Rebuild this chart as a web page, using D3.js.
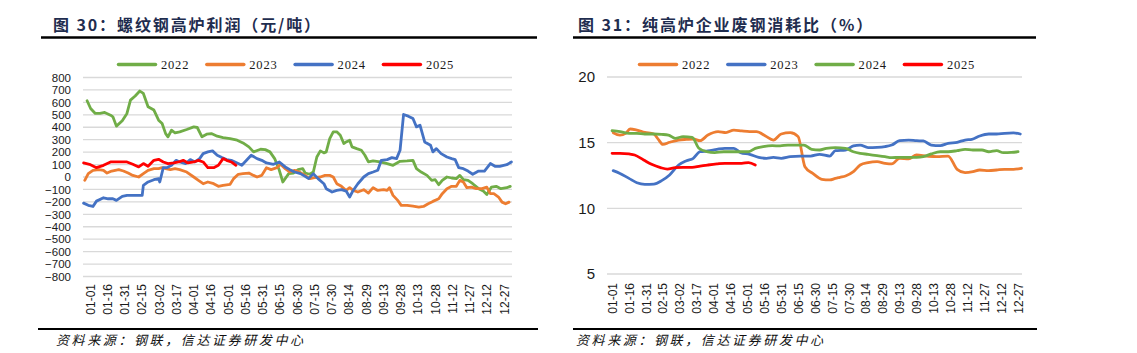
<!DOCTYPE html>
<html lang="zh">
<head>
<meta charset="UTF-8">
<title>螺纹钢高炉利润 / 纯高炉企业废钢消耗比</title>
<script src="https://cdnjs.cloudflare.com/ajax/libs/d3/7.8.5/d3.min.js"></script>
<style>
    body { margin: 0; background: #fff; }
    svg { display: block; }
</style>
</head>
<body>
<div id="chart"></div>
<script>
// x axis labels (every 15 days)
const xLabels = ["01-01","01-16","01-31","02-15","03-02","03-17","04-01","04-16","05-01","05-16","05-31",
    "06-15","06-30","07-15","07-30","08-14","08-29","09-13","09-28","10-13","10-28","11-12","11-27","12-12","12-27"];

// ---- chart 30: rebar blast furnace profit (yuan/ton), [day of year, value]
const profitYears = ["2022", "2023", "2024", "2025"];
const profitTicks = [800,700,600,500,400,300,200,100,0,-100,-200,-300,-400,-500,-600,-700,-800];
const profit2022 = [[3,613],[6,551],[10,511],[14,511],[18,519],[23,497],[25,484],[28,409],[33,452],[37,511],[40,618],[44,651],[48,691],[51,672],[55,565],[60,538],[64,457],[67,430],[70,349],[72,323],[75,376],[78,355],[82,363],[88,382],[94,403],[97,398],[101,323],[105,344],[109,349],[114,328],[119,317],[125,309],[131,296],[136,274],[141,242],[145,202],[151,223],[155,220],[159,202],[163,148],[167,54],[170,-40],[175,27],[179,32],[183,59],[187,67],[189,32],[193,22],[196,40],[199,161],[202,210],[205,194],[207,202],[210,309],[213,363],[216,363],[219,336],[222,269],[224,282],[227,296],[229,242],[233,228],[237,215],[240,175],[243,121],[247,129],[253,121],[259,108],[264,94],[270,126],[276,129],[281,134],[284,67],[288,40],[293,13],[297,-27],[300,-22],[303,-62],[306,-27],[310,0],[314,-8],[318,-13],[321,13],[324,-22],[328,-27],[332,-54],[337,-94],[341,-113],[344,-140],[348,-81],[352,-75],[356,-94],[361,-86],[364,-75]];
const profit2023 = [[1,-27],[4,27],[8,54],[13,59],[17,54],[20,32],[24,48],[30,59],[34,48],[38,32],[42,13],[47,0],[51,27],[55,54],[60,67],[64,67],[67,75],[70,67],[74,59],[78,67],[82,59],[88,40],[94,0],[98,-27],[102,-54],[106,-40],[111,-54],[115,-75],[119,-67],[125,-59],[128,-13],[132,22],[136,27],[141,32],[145,13],[148,0],[152,13],[156,75],[160,59],[165,75],[168,102],[172,67],[176,40],[180,54],[184,40],[189,13],[193,-13],[197,-5],[202,0],[206,13],[210,13],[213,0],[216,-54],[220,-75],[224,-108],[227,-86],[230,-108],[234,-121],[239,-102],[243,-129],[247,-86],[251,-108],[256,-102],[259,-108],[261,-86],[264,-148],[268,-188],[271,-228],[276,-228],[281,-234],[286,-242],[290,-237],[294,-215],[298,-196],[303,-175],[306,-134],[310,-94],[314,-75],[318,-75],[321,-27],[324,-40],[327,-86],[331,-81],[335,-94],[340,-94],[344,-81],[347,-134],[350,-134],[354,-161],[357,-202],[360,-215],[363,-202]];
const profit2024 = [[0,-210],[4,-228],[8,-237],[11,-194],[17,-167],[21,-175],[25,-175],[28,-188],[33,-156],[37,-148],[42,-148],[50,-148],[51,-67],[55,-40],[60,-22],[64,-13],[65,-40],[68,75],[71,75],[75,94],[79,134],[82,121],[87,108],[91,140],[95,121],[99,148],[102,188],[106,202],[110,210],[114,175],[118,156],[122,140],[126,134],[131,113],[135,94],[139,134],[143,175],[148,148],[152,134],[156,113],[162,102],[167,121],[172,81],[176,59],[180,40],[185,27],[189,5],[192,-13],[196,27],[200,-13],[205,-54],[207,-94],[212,-121],[216,-108],[220,-102],[224,-113],[227,-161],[230,-108],[234,-54],[239,0],[243,27],[247,40],[251,54],[254,134],[259,140],[263,156],[267,148],[270,215],[273,503],[277,489],[281,470],[284,403],[287,417],[291,282],[296,255],[298,202],[301,228],[305,188],[310,161],[314,148],[317,140],[320,75],[324,67],[328,48],[332,22],[337,48],[342,48],[347,108],[351,86],[355,86],[361,99],[365,121]];
const profit2025 = [[0,113],[5,102],[11,75],[17,94],[23,121],[28,121],[37,121],[42,102],[47,81],[51,108],[55,86],[60,134],[64,142],[68,121],[72,108],[77,113],[81,121],[85,134],[89,113],[94,121],[98,134],[102,121],[106,75],[111,75],[115,94],[119,148],[122,134],[126,121],[130,94]];

// ---- chart 31: scrap ratio of pure BF mills (%), [day of year, value]
const scrapYears = ["2022", "2023", "2024", "2025"];
const scrapTicks = [20, 15, 10, 5];
const scrap2022 = [[1,15.76],[7,15.58],[12,15.71],[16,16.04],[22,15.96],[29,15.79],[37,15.66],[41,15.25],[45,14.87],[51,15.03],[59,15.2],[66,15.25],[72,15.28],[78,15.15],[85,15.58],[94,15.84],[101,15.76],[108,15.96],[115,15.89],[122,15.84],[128,15.84],[136,15.51],[143,15.2],[150,15.66],[158,15.76],[165,15.46],[171,13.17],[178,12.66],[186,12.21],[193,12.16],[198,12.28],[202,12.36],[207,12.46],[214,12.79],[220,13.3],[227,13.48],[235,13.55],[242,13.43],[248,13.38],[255,13.81],[263,13.76],[270,14.06],[279,13.98],[288,13.93],[298,13.98],[306,12.97],[313,12.72],[320,12.79],[326,12.92],[334,12.87],[341,12.92],[348,12.97],[356,12.97],[363,13.05]];
const scrap2023 = [[1,12.87],[7,12.66],[15,12.28],[22,11.95],[29,11.83],[37,11.85],[44,12.11],[51,12.54],[59,13.3],[66,13.63],[72,13.81],[78,14.31],[85,14.37],[93,14.49],[100,14.57],[108,14.57],[114,14.24],[122,14.11],[130,13.88],[137,13.81],[143,13.88],[150,13.81],[158,13.93],[167,13.98],[176,13.98],[184,14.11],[193,13.98],[198,14.39],[207,14.44],[214,14.75],[220,14.82],[227,14.62],[235,14.64],[242,14.7],[248,14.82],[255,15.15],[263,15.2],[270,15.15],[276,15.13],[283,14.82],[291,14.77],[298,14.95],[306,15.03],[313,15.2],[319,15.25],[326,15.51],[334,15.66],[341,15.66],[348,15.71],[356,15.74],[362,15.66]];
const scrap2024 = [[0,15.91],[7,15.84],[15,15.71],[22,15.71],[29,15.66],[37,15.66],[44,15.63],[50,15.58],[56,15.33],[63,15.46],[71,15.41],[77,14.57],[84,14.31],[91,14.24],[99,14.31],[106,14.31],[114,14.31],[121,14.31],[127,14.57],[134,14.7],[142,14.77],[149,14.75],[156,14.82],[164,14.82],[170,14.82],[177,14.49],[184,14.44],[190,14.57],[198,14.62],[207,14.57],[214,14.31],[220,14.19],[227,14.11],[235,14.01],[242,13.93],[248,13.86],[255,13.88],[263,13.88],[270,13.88],[276,13.93],[283,14.14],[291,14.31],[298,14.31],[306,14.39],[313,14.49],[320,14.44],[328,14.44],[334,14.31],[341,14.39],[347,14.24],[354,14.26],[360,14.31]];
const scrap2025 = [[0,14.19],[7,14.19],[15,14.14],[20,14.06],[28,13.68],[35,13.35],[43,13.1],[49,12.99],[56,13.1],[63,13.12],[71,13.12],[78,13.22],[85,13.3],[93,13.38],[100,13.43],[108,13.43],[115,13.43],[121,13.48],[127,13.3]];

const source = "资料来源：钢联，信达证券研发中心";

const width = 1137, height = 353;
const svg = d3.select("#chart").append("svg")
    .attr("width", width)
    .attr("height", height);

function drawPanel(cfg) {
    const g = svg.append("g");

    // title + rule
    g.append("text")
        .attr("x", cfg.titleX).attr("y", 31)
        .style("font-family", "'Noto Sans CJK SC', sans-serif")
        .style("font-weight", "700")
        .style("font-size", "16px")
        .style("letter-spacing", "1.9px")
        .attr("fill", "#1f2d4f")
        .text(cfg.title);
    g.append("line")
        .attr("x1", cfg.ruleX[0]).attr("x2", cfg.ruleX[1])
        .attr("y1", 37.5).attr("y2", 37.5)
        .attr("stroke", "#000").attr("stroke-width", 2.5);

    // scales
    const x = d3.scaleLinear().domain(cfg.xDomain).range(cfg.xRange);
    const xl = d3.scalePoint().domain(xLabels).range(cfg.labelRange);
    const y = d3.scaleLinear().domain(cfg.yDomain).range(cfg.yRange);

    // grid
    g.append("g").selectAll("line")
        .data(cfg.ticks)
        .join("line")
        .attr("x1", cfg.xRange[0]).attr("x2", cfg.xRange[1])
        .attr("y1", d => y(d)).attr("y2", d => y(d))
        .attr("stroke", "#d9d9d9").attr("stroke-width", 1.3);

    // y labels
    const yAxis = g.append("g")
        .attr("transform", `translate(${cfg.xRange[0]},0)`)
        .call(d3.axisLeft(y).tickValues(cfg.ticks).tickSize(0).tickPadding(12));
    yAxis.select(".domain").remove();
    yAxis.selectAll("text")
        .style("font-family", "'Liberation Sans', Arial, sans-serif")
        .style("font-size", cfg.yFont)
        .attr("fill", "#1a1a1a");

    // x labels
    const xAxis = g.append("g")
        .attr("transform", `translate(0,${cfg.labelY})`)
        .call(d3.axisBottom(xl).tickSize(0).tickPadding(0));
    xAxis.select(".domain").remove();
    xAxis.selectAll("text")
        .attr("transform", "rotate(-90)")
        .attr("text-anchor", "end")
        .attr("x", 0).attr("y", 0).attr("dy", "0.35em")
        .style("font-family", "'Liberation Sans', Arial, sans-serif")
        .style("font-size", "12px")
        .attr("fill", "#1a1a1a");

    // series
    const line = d3.line()
        .x(d => x(d[0]))
        .y(d => y(d[1]))
        .curve(cfg.curve);
    g.append("g").selectAll("path")
        .data(cfg.series)
        .join("path")
        .attr("d", d => line(d.values))
        .attr("fill", "none")
        .attr("stroke", d => d.color)
        .attr("stroke-width", 2.8)
        .attr("stroke-linejoin", "round")
        .attr("stroke-linecap", "round");

    // legend
    const leg = g.append("g").selectAll("g")
        .data(cfg.series)
        .join("g")
        .attr("transform", (d, i) => `translate(${cfg.legendX + i * 88.3},64.5)`);
    leg.append("line")
        .attr("x1", 1.5).attr("x2", 38.5)
        .attr("stroke", d => d.color)
        .attr("stroke-width", 3.5)
        .attr("stroke-linecap", "round");
    leg.append("text")
        .attr("x", 44).attr("dy", "0.35em")
        .style("font-family", "'Liberation Serif', 'Times New Roman', serif")
        .style("font-size", "12.5px")
        .style("letter-spacing", "0.8px")
        .attr("fill", "#1a1a1a")
        .text(d => d.name);

    // footer
    g.append("line")
        .attr("x1", cfg.footX[0]).attr("x2", cfg.footX[1])
        .attr("y1", 329).attr("y2", 329)
        .attr("stroke", "#000").attr("stroke-width", 2);
    g.append("text")
        .attr("x", cfg.sourceX).attr("y", 345)
        .style("font-family", "'Noto Sans CJK SC', sans-serif")
        .style("font-style", "italic")
        .style("font-size", "13px")
        .style("letter-spacing", "2.6px")
        .attr("fill", "#111")
        .text(source);
}

drawPanel({
    title: "图 30：螺纹钢高炉利润（元/吨）",
    titleX: 53, ruleX: [41, 537],
    xDomain: [-0.5, 365.5], xRange: [83, 512], labelRange: [90, 504],
    yDomain: [-800, 800], yRange: [276.5, 77.5], ticks: profitTicks, yFont: "11.5px",
    labelY: 284,
    curve: d3.curveLinear,
    legendX: 117,
    series: [
        { name: profitYears[0], color: "#70ad47", values: profit2022 },
        { name: profitYears[1], color: "#ed7d31", values: profit2023 },
        { name: profitYears[2], color: "#4472c4", values: profit2024 },
        { name: profitYears[3], color: "#ff0000", values: profit2025 }
    ],
    footX: [38, 538], sourceX: 56
});

drawPanel({
    title: "图 31：纯高炉企业废钢消耗比（%）",
    titleX: 578, ruleX: [573, 1036],
    xDomain: [-4.5, 363.5], xRange: [607, 1022], labelRange: [612, 1018],
    yDomain: [5, 20], yRange: [274, 77], ticks: scrapTicks, yFont: "15px",
    labelY: 283,
    curve: d3.curveMonotoneX,
    legendX: 638,
    series: [
        { name: scrapYears[0], color: "#ed7d31", values: scrap2022 },
        { name: scrapYears[1], color: "#4472c4", values: scrap2023 },
        { name: scrapYears[2], color: "#70ad47", values: scrap2024 },
        { name: scrapYears[3], color: "#ff0000", values: scrap2025 }
    ],
    footX: [573, 1037], sourceX: 576
});
</script>
</body>
</html>
